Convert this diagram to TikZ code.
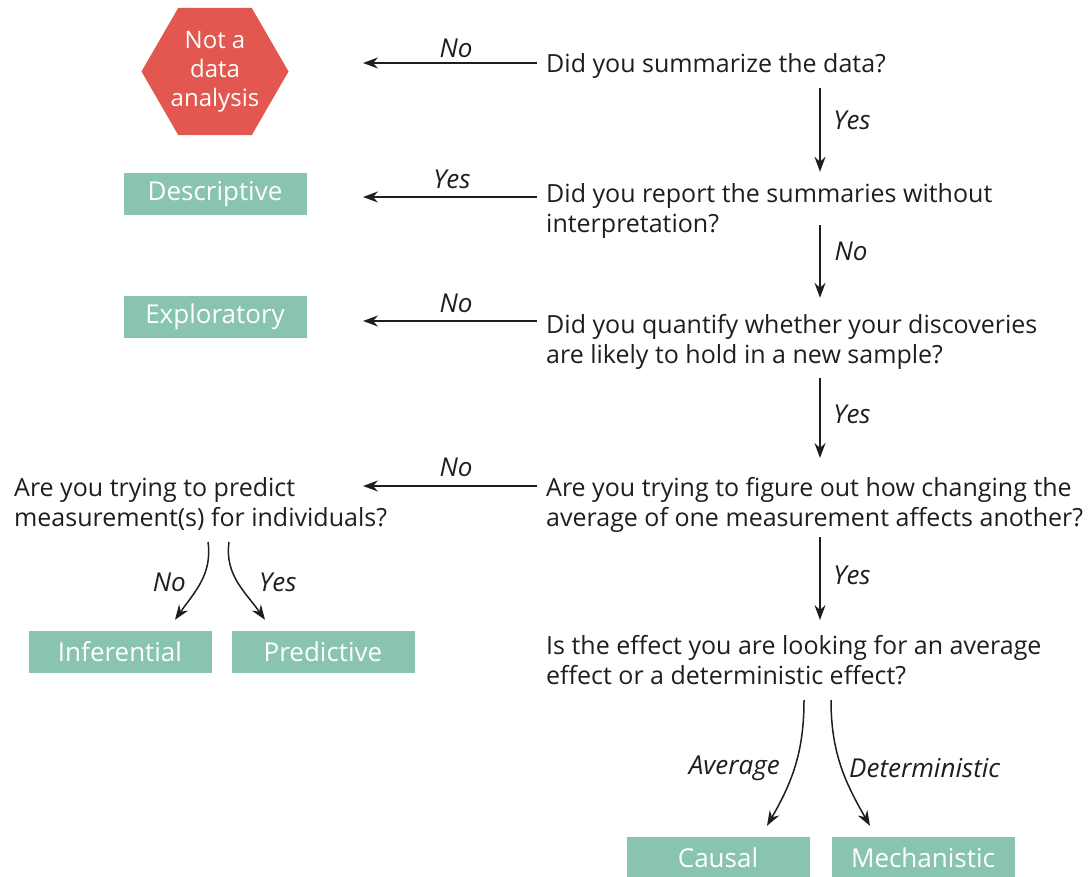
\documentclass[tikz,border=0pt]{standalone}
\usepackage{fontspec}
\setmainfont{Open Sans}
\usetikzlibrary{arrows.meta,shapes.geometric}
\definecolor{boxgreen}{HTML}{88C4AE}
\definecolor{hexred}{HTML}{E2574F}
\definecolor{txt}{HTML}{1E1E1E}
\newcommand{\qfont}{\fontsize{25}{30}\selectfont}
\newcommand{\bfontx}{\fontsize{26}{30}\selectfont}
\newcommand{\hfontx}{\fontsize{24}{29}\selectfont}
\begin{document}
\begin{tikzpicture}[x=1pt,y=-1pt,
  question/.style={anchor=north west, align=left, inner sep=0pt, font=\qfont, text=txt},
  result/.style={fill=boxgreen, text=white, minimum width=183pt, minimum height=42pt, inner sep=0pt, font=\bfontx},
  lab/.style={font=\bfontx\itshape, text=txt, inner sep=0pt},
  arr/.style={-{Stealth[length=15pt,width=11pt,inset=5pt]}, line width=1.5pt, draw=txt}]
\useasboundingbox (0,0) rectangle (1089,877);
\coordinate (colL) at (363,0);
\coordinate (colR) at (820,0);
% results
\node[regular polygon, regular polygon sides=6, minimum size=147pt, inner sep=0pt, fill=hexred, text=white, align=center, font=\hfontx] (hex) at (215,71.5) {Not a\\data\\analysis};
\node[result] (desc) at (215,194) {Descriptive};
\node[result] (expl) at (215,317) {Exploratory};
\node[result] (infer) at (120,652) {Inferential};
\node[result] (pred) at (323,652) {Predictive};
\node[result] (causal) at (718,858) {Causal};
\node[result] (mech) at (923,858) {Mechanistic};
% questions
\node[question] (q1) at (546,53) {Did you summarize the data?};
\node[question] (q2) at (546,183) {Did you report the summaries without\\interpretation?};
\node[question] (q3) at (546,314) {Did you quantify whether your discoveries\\are likely to hold in a new sample?};
\node[question] (q4) at (546,477) {Are you trying to figure out how changing the\\average of one measurement affects another?};
\node[question] (qp) at (14,477) {Are you trying to predict\\measurement(s) for individuals?};
\node[question] (q6) at (546,635) {Is the effect you are looking for an average\\effect or a deterministic effect?};
% horizontal arrows
\draw[arr] ([shift={(-9,10)}]q1.north west) coordinate (s1) -- (s1 -| colL);
\node[lab] (l1) at ([shift={(93,-15)}]s1 -| colL) {No};
\draw[arr] ([shift={(-9,14)}]q2.north west) coordinate (s2) -- (s2 -| colL);
\node[lab] (l2) at ([shift={(89,-18)}]s2 -| colL) {Yes};
\draw[arr] ([shift={(-9,7)}]q3.north west) coordinate (s3) -- (s3 -| colL);
\node[lab] (l3) at ([shift={(93,-18)}]s3 -| colL) {No};
\draw[arr] ([shift={(-9,9)}]q4.north west) coordinate (s4) -- (s4 -| colL);
\node[lab] (l4) at ([shift={(93,-19)}]s4 -| colL) {No};
% vertical arrows
\draw[arr] ([shift={(0,35)}]colR |- q1.north) -- ([shift={(0,-1)}]colR |- desc.north);
\node[lab] (y1) at (852,120) {Yes};
\draw[arr] ([shift={(0,42)}]colR |- q2.north) -- ([shift={(0,2)}]colR |- expl.north);
\node[lab] (y2) at (851,251) {No};
\draw[arr] ([shift={(0,64)}]colR |- q3.north) -- ([shift={(0,-19)}]colR |- q4.north);
\node[lab] (y3) at (852,414) {Yes};
\draw[arr] ([shift={(0,60)}]colR |- q4.north) -- ([shift={(0,-15)}]colR |- q6.north);
\node[lab] (y4) at (852,575) {Yes};
% curved arrows left
\draw[arr] ([shift={(194,65)}]qp.north west) to[out=-82,in=55] ([shift={(0,-11)}]infer.north east -| 175,0);
\node[lab, anchor=east] (ln) at (186,582) {No};
\draw[arr] ([shift={(215,65)}]qp.north west) to[out=-98,in=125] ([shift={(0,-11)}]pred.north west -| 265,0);
\node[lab, anchor=west] (ly) at (259,582) {Yes};
% curved arrows bottom
\draw[arr] ([shift={(258,65)}]q6.north west) to[out=-90,in=60] ([shift={(0,-11)}]causal.north -| 767,0);
\node[lab, anchor=east] (la) at (780,768) {Average};
\draw[arr] ([shift={(285,65)}]q6.north west) to[out=-90,in=120] ([shift={(0,-11)}]mech.north -| 870,0);
\node[lab, anchor=west] (ld) at (849,768) {Deterministic};
\end{tikzpicture}
\end{document}
